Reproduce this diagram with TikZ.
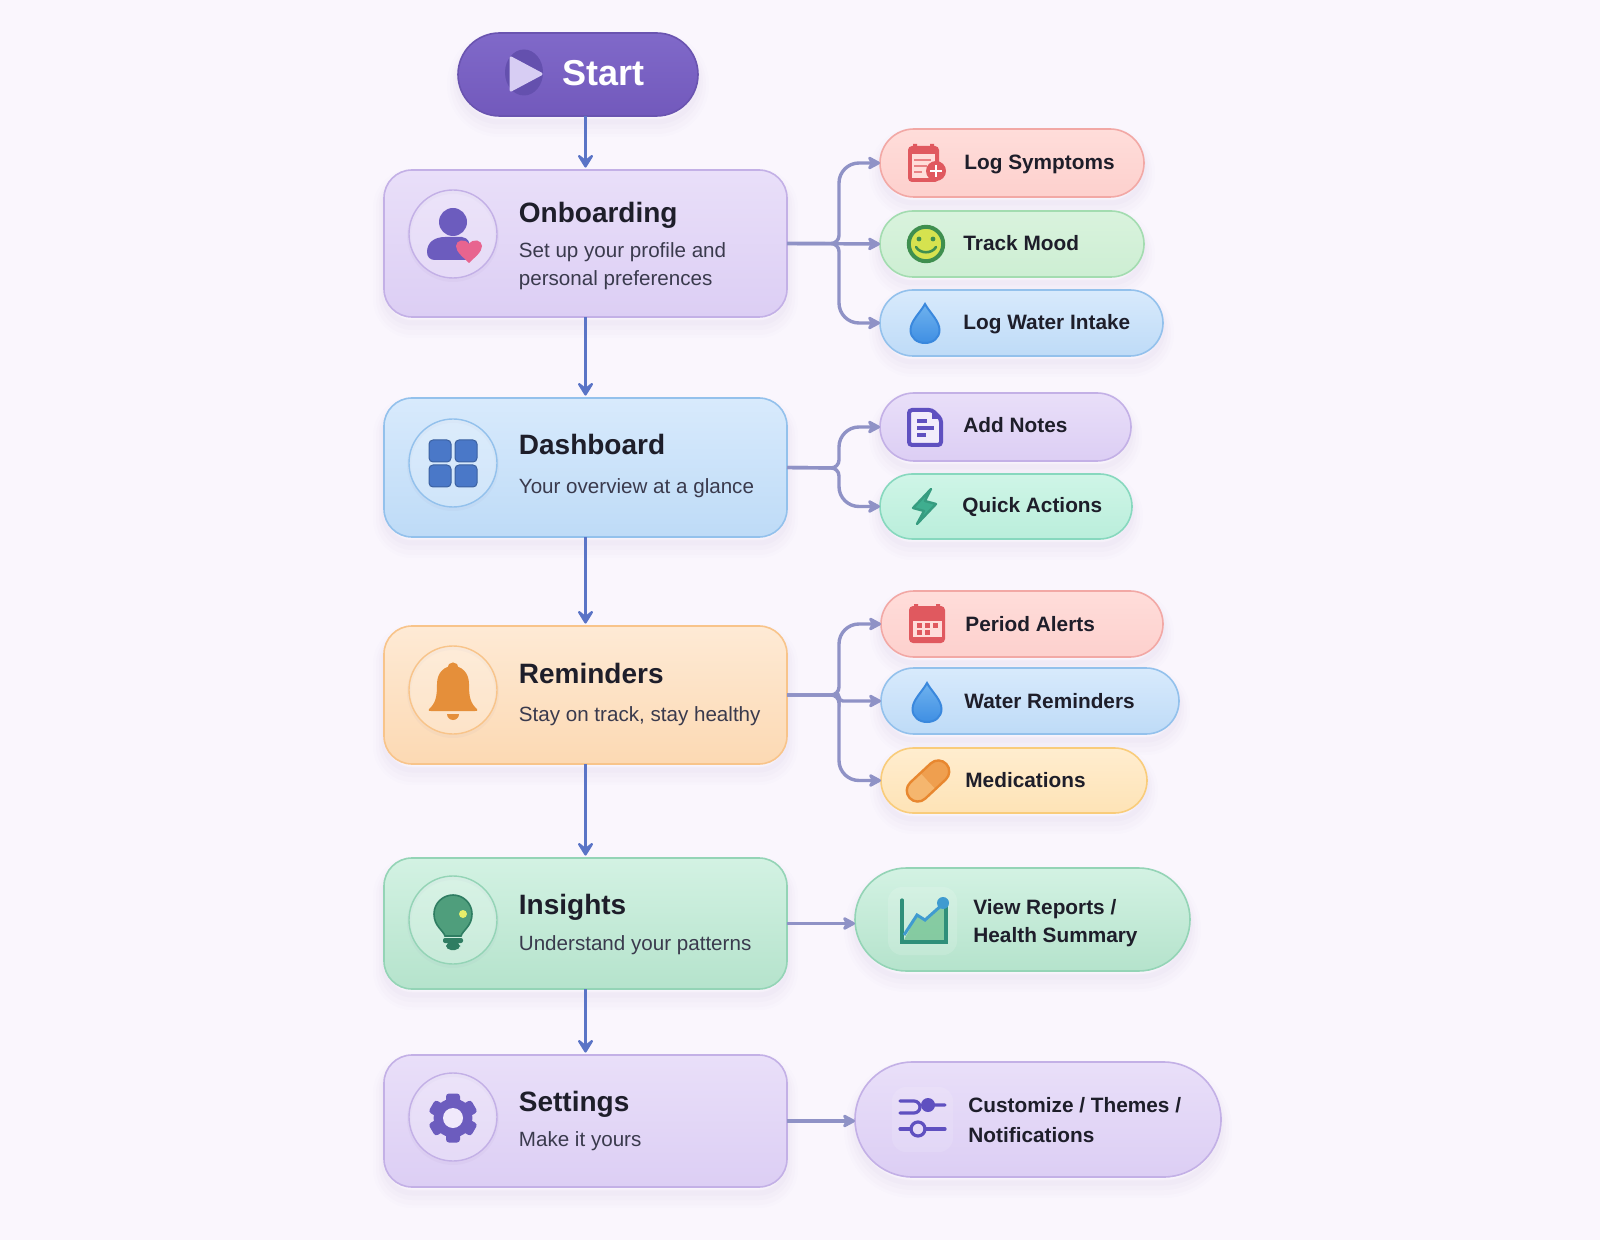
\documentclass[tikz,border=0pt]{standalone}
\usepackage{fontspec}
\setmainfont{Liberation Sans}
\usepackage{tikz}
\usetikzlibrary{arrows.meta,shapes.misc}
\definecolor{pagecol}{HTML}{FAF6FD}
\definecolor{shadowcol}{HTML}{7A6AA8}
\definecolor{flowcol}{HTML}{5A74C6}
\definecolor{branchcol}{HTML}{8F92C6}
\definecolor{titlecol}{HTML}{1E1E2A}
\definecolor{subcol}{HTML}{3A3A4D}
\definecolor{inkpurple}{HTML}{6C5CBE}
\definecolor{Start1}{HTML}{8069C9}
\definecolor{Start2}{HTML}{7259BC}
\definecolor{Start3}{HTML}{6A54B0}
\definecolor{PlayDisc}{HTML}{6450AE}
\definecolor{PlayTri}{HTML}{D7CDF3}
\definecolor{GridFill}{HTML}{4A78C8}
\definecolor{BellFill}{HTML}{E58F3A}
\definecolor{BulbFill}{HTML}{4F9E7C}
\definecolor{BulbDark}{HTML}{2F7D62}
\definecolor{BulbGlow}{HTML}{E6EE6A}
\definecolor{RedIcon}{HTML}{E0595F}
\definecolor{MoodRing}{HTML}{3F8F4F}
\definecolor{MoodFill}{HTML}{D6E24F}
\definecolor{NotesInk}{HTML}{5F50C0}
\definecolor{BoltFill}{HTML}{3FAE8F}
\definecolor{BoltLine}{HTML}{379C80}
\definecolor{PillLight}{HTML}{F5B66E}
\definecolor{PillFill}{HTML}{EF9F4F}
\definecolor{PillLine}{HTML}{E8872F}
\definecolor{ChartAxis}{HTML}{2F8F7A}
\definecolor{ChartLine}{HTML}{3F9BD0}
\definecolor{DropTop}{HTML}{6FB2EE}
\definecolor{DropBot}{HTML}{3F8FE3}
\definecolor{DropLine}{HTML}{3A88DD}
\definecolor{HeartFill}{HTML}{E8648F}
\definecolor{ChartArea}{HTML}{6FC08F}
\definecolor{purpletop}{HTML}{E9DFF9}
\definecolor{purplebot}{HTML}{DCCEF4}
\definecolor{purpleline}{HTML}{C3B0E6}
\definecolor{bluetop}{HTML}{D8EAFC}
\definecolor{bluebot}{HTML}{BEDBF7}
\definecolor{blueline}{HTML}{93C1EC}
\definecolor{orangetop}{HTML}{FEEAD5}
\definecolor{orangebot}{HTML}{FCD9B3}
\definecolor{orangeline}{HTML}{F8C48A}
\definecolor{greentop}{HTML}{D3F2E3}
\definecolor{greenbot}{HTML}{B5E3CC}
\definecolor{greenline}{HTML}{94D4B6}
\definecolor{redtop}{HTML}{FFDDDA}
\definecolor{redbot}{HTML}{FDD0CD}
\definecolor{redline}{HTML}{F2A8A5}
\definecolor{limetop}{HTML}{D9F3DD}
\definecolor{limebot}{HTML}{CDEED3}
\definecolor{limeline}{HTML}{A3DCB0}
\definecolor{minttop}{HTML}{CFF5E7}
\definecolor{mintbot}{HTML}{BAEEDB}
\definecolor{mintline}{HTML}{87D8BE}
\definecolor{yellowtop}{HTML}{FFEDCF}
\definecolor{yellowbot}{HTML}{FEE3B6}
\definecolor{yellowline}{HTML}{F9CC7A}
\tikzset{
  softshadow/.style={
    preaction={draw=shadowcol,draw opacity=.012,line width=11pt,transform canvas={yshift=-5pt}},
    preaction={draw=shadowcol,draw opacity=.016,line width=8pt,transform canvas={yshift=-5pt}},
    preaction={draw=shadowcol,draw opacity=.02,line width=5pt,transform canvas={yshift=-4pt}},
    preaction={draw=shadowcol,draw opacity=.025,line width=2.5pt,transform canvas={yshift=-3pt}}},
  mainbox/.style={rectangle,rounded corners=14pt,softshadow,line width=.8pt,inner sep=0pt,outer sep=0pt,minimum width=201.5pt},
  pillbox/.style={rounded rectangle,softshadow,line width=.8pt,inner sep=0pt,outer sep=0pt},
  iconring/.style={circle,minimum size=44pt,inner sep=0pt,line width=.7pt,fill=white,fill opacity=.2,
    preaction={draw=shadowcol,draw opacity=.04,line width=2pt,transform canvas={yshift=-1pt}}},
  purplefill/.style={top color=purpletop,bottom color=purplebot,draw=purpleline},
  bluefill/.style={top color=bluetop,bottom color=bluebot,draw=blueline},
  orangefill/.style={top color=orangetop,bottom color=orangebot,draw=orangeline},
  greenfill/.style={top color=greentop,bottom color=greenbot,draw=greenline},
  boxtitle/.style={anchor=base west,inner sep=0pt,text=titlecol,font=\fontsize{14}{17}\selectfont\bfseries},
  boxtext/.style={anchor=base west,inner sep=0pt,text=subcol,font=\fontsize{10.3}{13.7}\selectfont},
  pilltext/.style={anchor=base west,inner sep=0pt,text=titlecol,font=\fontsize{10.4}{14}\selectfont\bfseries},
  flowarrow/.style={draw=flowcol,line width=1.7pt,-{Stealth[length=8.5pt,width=10.5pt,inset=4pt,round]},shorten >=1.2pt},
  branch/.style={draw=branchcol,line width=1.7pt,-{Stealth[length=7.5pt,width=8pt,inset=2pt,round]}},
}
\newcommand{\waterdrop}[2]{%
  \begin{scope}[shift={(#1,#2)}]
    \draw[draw=DropLine,line width=1pt,top color=DropTop,bottom color=DropBot]
      (0,0) .. controls (-5,9) and (-14.5,17) .. (-14.5,26) .. controls (-14.5,34) and (-8,39) .. (0,39)
      .. controls (8,39) and (14.5,34) .. (14.5,26) .. controls (14.5,17) and (5,9) .. (0,0) -- cycle;
  \end{scope}}
\begin{document}
\begin{tikzpicture}[x=0.5pt,y=-0.5pt]
  \useasboundingbox (0,0) rectangle (1600,1240);
  \fill[pagecol] (0,0) rectangle (1600,1240);%

  % main boxes
  \node[pillbox,top color=Start1,bottom color=Start2,draw=Start3,minimum width=120pt,minimum height=41.5pt] (start) at (578,74.5) {};%
  \node[mainbox,purplefill,minimum height=73.5pt] (onboard) at (585.5,243.5) {};%
  \node[mainbox,bluefill,minimum height=69.5pt] (dash) at (585.5,467.5) {};%
  \node[mainbox,orangefill,minimum height=69pt] (remind) at (585.5,695) {};%
  \node[mainbox,greenfill,minimum height=65.5pt] (insight) at (585.5,923.5) {};%
  \node[mainbox,purplefill,minimum height=66pt] (settings) at (585.5,1121) {};%

  % side pills
  \node[pillbox,top color=redtop,bottom color=redbot,draw=redline,minimum width=132pt,minimum height=34pt] (symptoms) at (1012,163) {};%
  \node[pillbox,top color=limetop,bottom color=limebot,draw=limeline,minimum width=132pt,minimum height=33pt] (mood) at (1012,244) {};%
  \node[pillbox,bluefill,minimum width=141.5pt,minimum height=33pt] (water) at (1021.5,323) {};%
  \node[pillbox,purplefill,minimum width=125.5pt,minimum height=34pt] (notes) at (1005.5,427) {};%
  \node[pillbox,top color=minttop,bottom color=mintbot,draw=mintline,minimum width=126pt,minimum height=32.5pt] (quick) at (1006,506.5) {};%
  \node[pillbox,top color=redtop,bottom color=redbot,draw=redline,minimum width=141pt,minimum height=33pt] (period) at (1022,624) {};%
  \node[pillbox,bluefill,minimum width=149pt,minimum height=33pt] (waterrem) at (1030,701) {};%
  \node[pillbox,top color=yellowtop,bottom color=yellowbot,draw=yellowline,minimum width=133pt,minimum height=32.5pt] (meds) at (1014,780.5) {};%
  \node[pillbox,greenfill,minimum width=167.5pt,minimum height=51.5pt] (reports) at (1022.5,919.5) {};%
  \node[pillbox,purplefill,minimum width=183pt,minimum height=57.5pt] (custom) at (1038,1119.5) {};%

  % down the middle
  \draw[flowarrow] (start.south -| onboard.north) -- (onboard.north);%
  \draw[flowarrow] (onboard.south) -- (dash.north);%
  \draw[flowarrow] (dash.south) -- (remind.north);%
  \draw[flowarrow] (remind.south) -- (insight.north);%
  \draw[flowarrow] (insight.south) -- (settings.north);%

  % forks
  \coordinate (forka) at (839,243.5);%
  \draw[branch] (onboard.east) [rounded corners=4pt] -- (forka) [rounded corners=10pt] |- (symptoms.west);%
  \draw[branch] (onboard.east) -- (mood.west);%
  \draw[branch] (onboard.east) [rounded corners=4pt] -- (forka) [rounded corners=10pt] |- (water.west);%
  \coordinate (forkb) at (839,468);%
  \draw[branch] (dash.east) [rounded corners=4pt] -- (forkb) [rounded corners=10pt] |- (notes.west);%
  \draw[branch] (dash.east) [rounded corners=4pt] -- (forkb) [rounded corners=10pt] |- (quick.west);%
  \coordinate (forkc) at (839,695);%
  \draw[branch] (remind.east) [rounded corners=4pt] -- (forkc) [rounded corners=10pt] |- (period.west);%
  \draw[branch] (remind.east) [rounded corners=2pt] -- (forkc) |- (waterrem.west);%
  \draw[branch] (remind.east) [rounded corners=4pt] -- (forkc) [rounded corners=10pt] |- (meds.west);%
  \draw[branch] (insight.east) -- (insight.east -| reports.west);%
  \draw[branch] (settings.east) -- (settings.east -| custom.west);%

  % texts of the main boxes
  \node[anchor=base west,inner sep=0pt,text=white,font=\fontsize{18}{20}\selectfont\bfseries] (startlabel) at (562,86) {Start};%
  \node[boxtitle] (onboardtitle) at (518.5,223) {Onboarding};%
  \node[boxtext] (onboardtexta) at (518.5,258) {Set up your profile and};%
  \node[boxtext] (onboardtextb) at (518.5,286) {personal preferences};%
  \node[boxtitle] (dashtitle) at (518.5,455) {Dashboard};%
  \node[boxtext] (dashtext) at (518.5,494) {Your overview at a glance};%
  \node[boxtitle] (remindtitle) at (518.5,683) {Reminders};%
  \node[boxtext] (remindtext) at (518.5,721) {Stay on track, stay healthy};%
  \node[boxtitle] (insighttitle) at (518.5,914) {Insights};%
  \node[boxtext] (insighttext) at (518.5,950) {Understand your patterns};%
  \node[boxtitle] (settingstitle) at (518.5,1111) {Settings};%
  \node[boxtext] (settingstext) at (518.5,1146) {Make it yours};%

  % texts of the pills
  \node[pilltext] (symptomslabel) at (964,170) {Log Symptoms};%
  \node[pilltext] (moodlabel) at (963,251) {Track Mood};%
  \node[pilltext] (waterlabel) at (963,330) {Log Water Intake};%
  \node[pilltext] (noteslabel) at (963,433) {Add Notes};%
  \node[pilltext] (quicklabel) at (962,513) {Quick Actions};%
  \node[pilltext] (periodlabel) at (965,631) {Period Alerts};%
  \node[pilltext] (waterremlabel) at (964,708) {Water Reminders};%
  \node[pilltext] (medslabel) at (965,787) {Medications};%
  \node[pilltext] (reportslabela) at (973,914) {View Reports /};%
  \node[pilltext] (reportslabelb) at (973,942) {Health Summary};%
  \node[pilltext] (customlabela) at (968,1112) {Customize / Themes /};%
  \node[pilltext] (customlabelb) at (968,1142) {Notifications};%

  % rings
  \node[iconring,draw=purpleline] (onboardring) at (453,234) {};%
  \node[iconring,draw=blueline] (dashring) at (453,463) {};%
  \node[iconring,draw=orangeline] (remindring) at (453,690) {};%
  \node[iconring,draw=greenline] (insightring) at (453,920) {};%
  \node[iconring,draw=purpleline] (settingsring) at (453,1117) {};%

  % play
  \fill[PlayDisc] (524,72.5) ellipse (9.5pt and 11.5pt);%
  \draw[draw=PlayTri,fill=PlayTri,line width=1.5pt,line join=round] (511,58) -- (541,74) -- (511,90) -- cycle;%

  % person with heart
  \fill[inkpurple] (453,222) circle (7pt);%
  \fill[inkpurple] (427,252) .. controls (427,242) and (435,237) .. (445,237) -- (462,237)
    .. controls (468,238) and (470,242) .. (470,248) -- (470,260) -- (435,260) .. controls (430,260) and (427,257) .. (427,252) -- cycle;%
  \begin{scope}[shift={(469,250)}]
    \fill[HeartFill] (0,13) .. controls (-6,7) and (-13,2) .. (-13,-4) .. controls (-13,-10) and (-4,-12) .. (0,-6)
      .. controls (4,-12) and (13,-10) .. (13,-4) .. controls (13,2) and (6,7) .. (0,13) -- cycle;%
  \end{scope}

  % grid
  \foreach \px in {429,455}
    \foreach \py in {440,465}
      \draw[fill=GridFill,draw=GridFill!80!black,line width=.5pt,rounded corners=2pt] (\px,\py) rectangle ++(22,22);%

  % bell
  \fill[BellFill] (429,709) .. controls (436,703) and (437,696) .. (437,684) .. controls (437,672) and (445,666) .. (453,666)
    .. controls (461,666) and (469,672) .. (469,684) .. controls (469,696) and (470,703) .. (477,709)
    .. controls (478,711) and (477,711) .. (475,711) -- (431,711) .. controls (429,711) and (428,711) .. (429,709) -- cycle;%
  \fill[BellFill] (453,668) circle (2.8pt);%
  \fill[BellFill] (447,714) arc (180:0:6) -- cycle;%

  % bulb
  \draw[draw=BulbDark,fill=BulbFill,line width=.8pt] (445,936) .. controls (443,930) and (434,926) .. (434,914) .. controls (434,903) and (443,895) .. (453,895)
    .. controls (463,895) and (472,903) .. (472,914) .. controls (472,926) and (463,930) .. (461,936) -- cycle;%
  \fill[BulbDark,rounded corners=1pt] (443,938) rectangle (463,943);%
  \fill[BulbDark,rounded corners=2.5pt] (446,942) rectangle (460,950);%
  \fill[BulbGlow] (463,914) circle (2pt);%

  % gear
  \begin{scope}[shift={(453,1118)}]
    \foreach \ang in {30,90,...,330}
      \fill[inkpurple,rotate=\ang,rounded corners=1.5pt] (12,-7) rectangle (24.5,7);%
    \fill[inkpurple] (0,0) circle (9.7pt);%
    \fill[purpletop!70!white] (0,0) circle (5pt);%
  \end{scope}

  % log symptoms
  \fill[RedIcon,rounded corners=2pt] (908,146) rectangle (939,182);%
  \fill[RedIcon] (913,144) rectangle (917,150) (930,144) rectangle (934,150);%
  \fill[redtop] (912,154) rectangle (935,178);%
  \draw[RedIcon!70!redtop,line width=1.2pt] (914,160) -- (931,160) (914,166) -- (927,166) (914,172) -- (922,172);%
  \fill[RedIcon] (936,171) circle (5pt);%
  \draw[white,line width=1pt] (930,171) -- (942,171) (936,165) -- (936,177);%

  % mood
  \draw[draw=MoodRing,fill=MoodFill,line width=2pt] (926,244) circle (8.6pt);%
  \fill[MoodRing] (919,239) circle (1.2pt) (933,239) circle (1.2pt);%
  \draw[MoodRing,line width=1.3pt,line cap=round] (916,247) .. controls (920,254) and (932,254) .. (936,247);%

  % drops
  \waterdrop{925}{304}
  \waterdrop{927}{683}

  % notes
  \draw[draw=NotesInk,fill=purpletop!60!white,line width=2pt,rounded corners=1.5pt] (909,410) -- (932,410) -- (941,419) -- (941,445) -- (909,445) -- cycle;%
  \fill[NotesInk] (932,410) -- (932,419) -- (941,419) -- cycle;%
  \draw[NotesInk,line width=1.6pt] (917,421) -- (927,421) (917,428) -- (934,428) (917,435) -- (926,435);%

  % bolt
  \draw[draw=BoltLine,fill=BoltFill,line width=1.2pt,line join=round] (931,489) -- (913,508) -- (924,511) -- (917,524) -- (936,504) -- (925,501) -- cycle;%

  % calendar
  \fill[RedIcon,rounded corners=2pt] (909,606) rectangle (945,643);%
  \fill[RedIcon] (914,604) rectangle (918,610) (936,604) rectangle (940,610);%
  \fill[redtop] (913,621) rectangle (942,637);%
  \foreach \px in {917,925,933}
    \fill[RedIcon] (\px,623) rectangle ++(5,5);%
  \foreach \px in {917,925}
    \fill[RedIcon] (\px,630) rectangle ++(5,5);%

  % capsule
  \begin{scope}[shift={(928,781)},rotate=43]
    \fill[PillLight,rounded corners=5.5pt] (-25,-11) rectangle (25,11);%
    \fill[PillFill,rounded corners=5.5pt] (0,-11) rectangle (25,11);%
    \fill[PillFill] (0,-11) rectangle (10,11);%
    \draw[PillLine,line width=1.2pt,rounded corners=5.5pt] (-25,-11) rectangle (25,11);%
  \end{scope}

  % chart
  \fill[white,fill opacity=.14,rounded corners=7pt] (888,887) rectangle (957,955);%
  \fill[ChartArea,fill opacity=.75] (904,940) -- (917,915) -- (925,920) -- (944,904) -- (944,941) -- cycle;%
  \draw[ChartAxis,line width=1.6pt,line cap=round] (902,900) -- (902,942) -- (946,942) -- (946,904);%
  \draw[ChartLine,line width=1.5pt] (904,935) -- (917,915) -- (925,920) -- (943,904);%
  \fill[ChartLine] (943,903) circle (3pt);%

  % sliders
  \fill[white,fill opacity=.12,rounded corners=7pt] (892,1087) rectangle (953,1152);%
  \draw[NotesInk,line width=1.6pt,line cap=round] (900,1101) -- (914,1101) arc (-90:90:6) -- (900,1113) (928,1105) -- (945,1105);%
  \fill[NotesInk] (928,1105) circle (3.5pt);%
  \draw[NotesInk,line width=1.6pt,line cap=round] (900,1129) -- (911,1129) (925,1129) -- (945,1129);%
  \draw[NotesInk,line width=1.6pt] (918,1129) circle (3.5pt);%
\end{tikzpicture}
\end{document}
